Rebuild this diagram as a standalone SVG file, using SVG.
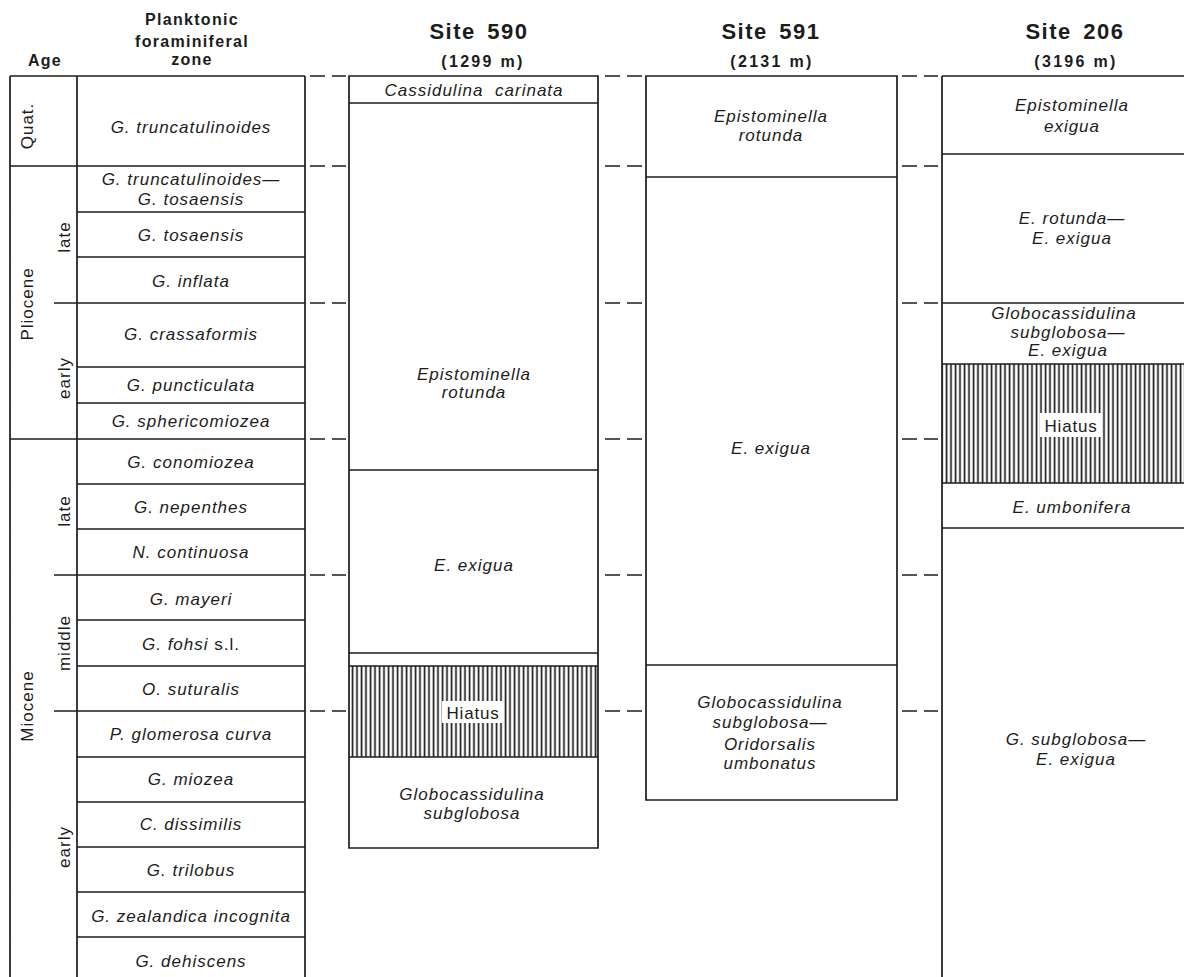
<svg xmlns="http://www.w3.org/2000/svg" width="1184" height="977" viewBox="0 0 1184 977">
<style>
  .ln { stroke:#1c1c1c; stroke-width:1.7; fill:none; }
  .dash { stroke:#1c1c1c; stroke-width:1.7; stroke-dasharray:15 7; fill:none; }
  text { font-family:"Liberation Sans", Arial, sans-serif; fill:#1c1c1c; text-anchor:middle; }
  .h { font-size:16px; font-weight:bold; letter-spacing:1.3px; }
  .site { font-size:22px; font-weight:bold; letter-spacing:1.5px; word-spacing:4px; }
  .dep { font-size:16px; font-weight:bold; letter-spacing:2.3px; }
  .z { font-size:17px; font-style:italic; letter-spacing:1px; }
  .v { font-size:17px; letter-spacing:1px; }
  .hi { font-size:17px; letter-spacing:0.8px; }
</style>
<defs>
  <pattern id="hatch" patternUnits="userSpaceOnUse" width="4.5" height="10">
    <rect width="4.5" height="10" fill="#fff"/>
    <line x1="1.5" y1="0" x2="1.5" y2="10" stroke="#1c1c1c" stroke-width="1.7"/>
  </pattern>
</defs>
<rect width="1184" height="977" fill="#fff"/>

<g id="headers">
  <text class="h" x="45" y="66">Age</text>
  <text class="h" x="192" y="25">Planktonic</text>
  <text class="h" x="192" y="47">foraminiferal</text>
  <text class="h" x="192" y="65">zone</text>
  <text class="site" x="479" y="39">Site 590</text>
  <text class="dep" x="483" y="67">(1299 m)</text>
  <text class="site" x="771" y="39">Site 591</text>
  <text class="dep" x="772" y="67">(2131 m)</text>
  <text class="site" x="1075" y="39">Site 206</text>
  <text class="dep" x="1076" y="67">(3196 m)</text>
</g>

<g id="zone-table">
  <path class="ln" d="M10 76 H305 M10 76 V977 M77 76 V977 M305 76 V977
    M10 166 H305 M77 212 H305 M77 257 H305 M54 303 H305 M77 367 H305 M77 403 H305
    M10 439 H305 M77 484 H305 M77 529 H305 M54 575 H305 M77 620 H305 M77 666 H305
    M54 711 H305 M77 757 H305 M77 802 H305 M77 847 H305 M77 892 H305 M77 937 H305"/>
  <text class="v" transform="translate(33 126) rotate(-90)">Quat.</text>
  <text class="v" transform="translate(33 304) rotate(-90)">Pliocene</text>
  <text class="v" transform="translate(70 237) rotate(-90)">late</text>
  <text class="v" transform="translate(70 378) rotate(-90)">early</text>
  <text class="v" transform="translate(33 706) rotate(-90)">Miocene</text>
  <text class="v" transform="translate(70 511) rotate(-90)">late</text>
  <text class="v" transform="translate(70 643) rotate(-90)">middle</text>
  <text class="v" transform="translate(70 847) rotate(-90)">early</text>
  <text class="z" x="191" y="133">G. truncatulinoides</text>
  <text class="z" x="191" y="185">G. truncatulinoides—</text>
  <text class="z" x="191" y="205">G. tosaensis</text>
  <text class="z" x="191" y="241">G. tosaensis</text>
  <text class="z" x="191" y="287">G. inflata</text>
  <text class="z" x="191" y="340">G. crassaformis</text>
  <text class="z" x="191" y="391">G. puncticulata</text>
  <text class="z" x="191" y="427">G. sphericomiozea</text>
  <text class="z" x="191" y="468">G. conomiozea</text>
  <text class="z" x="191" y="513">G. nepenthes</text>
  <text class="z" x="191" y="558">N. continuosa</text>
  <text class="z" x="191" y="605">G. mayeri</text>
  <text class="z" x="191" y="650"><tspan>G. fohsi</tspan><tspan font-style="normal"> s.l.</tspan></text>
  <text class="z" x="191" y="695">O. suturalis</text>
  <text class="z" x="191" y="740">P. glomerosa curva</text>
  <text class="z" x="191" y="785">G. miozea</text>
  <text class="z" x="191" y="830">C. dissimilis</text>
  <text class="z" x="191" y="876">G. trilobus</text>
  <text class="z" x="191" y="922">G. zealandica incognita</text>
  <text class="z" x="191" y="967">G. dehiscens</text>
</g>

<g id="site590">
  <rect x="349" y="666" width="249" height="91" fill="url(#hatch)"/>
  <rect x="442" y="701" width="62" height="22" fill="#fff"/>
  <path class="ln" d="M349 76 H598 V848 H349 Z M349 103 H598 M349 470 H598 M349 653 H598 M349 666 H598 M349 757 H598"/>
  <text class="z" x="474" y="96" word-spacing="6">Cassidulina carinata</text>
  <text class="z" x="474" y="380">Epistominella</text>
  <text class="z" x="474" y="398">rotunda</text>
  <text class="z" x="474" y="571">E. exigua</text>
  <text class="hi" x="473" y="719">Hiatus</text>
  <text class="z" x="472" y="800">Globocassidulina</text>
  <text class="z" x="472" y="819">subglobosa</text>
</g>

<g id="site591">
  <path class="ln" d="M646 76 H897 V800 H646 Z M646 177 H897 M646 665 H897"/>
  <text class="z" x="771" y="122">Epistominella</text>
  <text class="z" x="771" y="141">rotunda</text>
  <text class="z" x="771" y="454">E. exigua</text>
  <text class="z" x="770" y="708">Globocassidulina</text>
  <text class="z" x="770" y="728">subglobosa—</text>
  <text class="z" x="770" y="750">Oridorsalis</text>
  <text class="z" x="770" y="769">umbonatus</text>
</g>

<g id="site206">
  <rect x="942" y="364" width="242" height="119" fill="url(#hatch)"/>
  <rect x="1040" y="413" width="62" height="24" fill="#fff"/>
  <path class="ln" d="M942 76 H1184 M942 76 V977 M942 154 H1184 M942 303 H1184 M942 364 H1184 M942 483 H1184 M942 528 H1184"/>
  <text class="z" x="1072" y="111">Epistominella</text>
  <text class="z" x="1072" y="132">exigua</text>
  <text class="z" x="1072" y="224">E. rotunda—</text>
  <text class="z" x="1072" y="244">E. exigua</text>
  <text class="z" x="1064" y="319">Globocassidulina</text>
  <text class="z" x="1068" y="338">subglobosa—</text>
  <text class="z" x="1068" y="356">E. exigua</text>
  <text class="hi" x="1071" y="432">Hiatus</text>
  <text class="z" x="1072" y="513">E. umbonifera</text>
  <text class="z" x="1076" y="745">G. subglobosa—</text>
  <text class="z" x="1076" y="765">E. exigua</text>
</g>

<g id="connectors">
  <path class="dash" d="M310 76 H346 M605 76 H642 M902 76 H938
    M310 166 H346 M605 166 H642 M902 166 H938
    M310 303 H346 M605 303 H642 M902 303 H938
    M310 439 H346 M605 439 H642 M902 439 H938
    M310 575 H346 M605 575 H642 M902 575 H938
    M310 711 H346 M605 711 H642 M902 711 H938"/>
</g>
</svg>
